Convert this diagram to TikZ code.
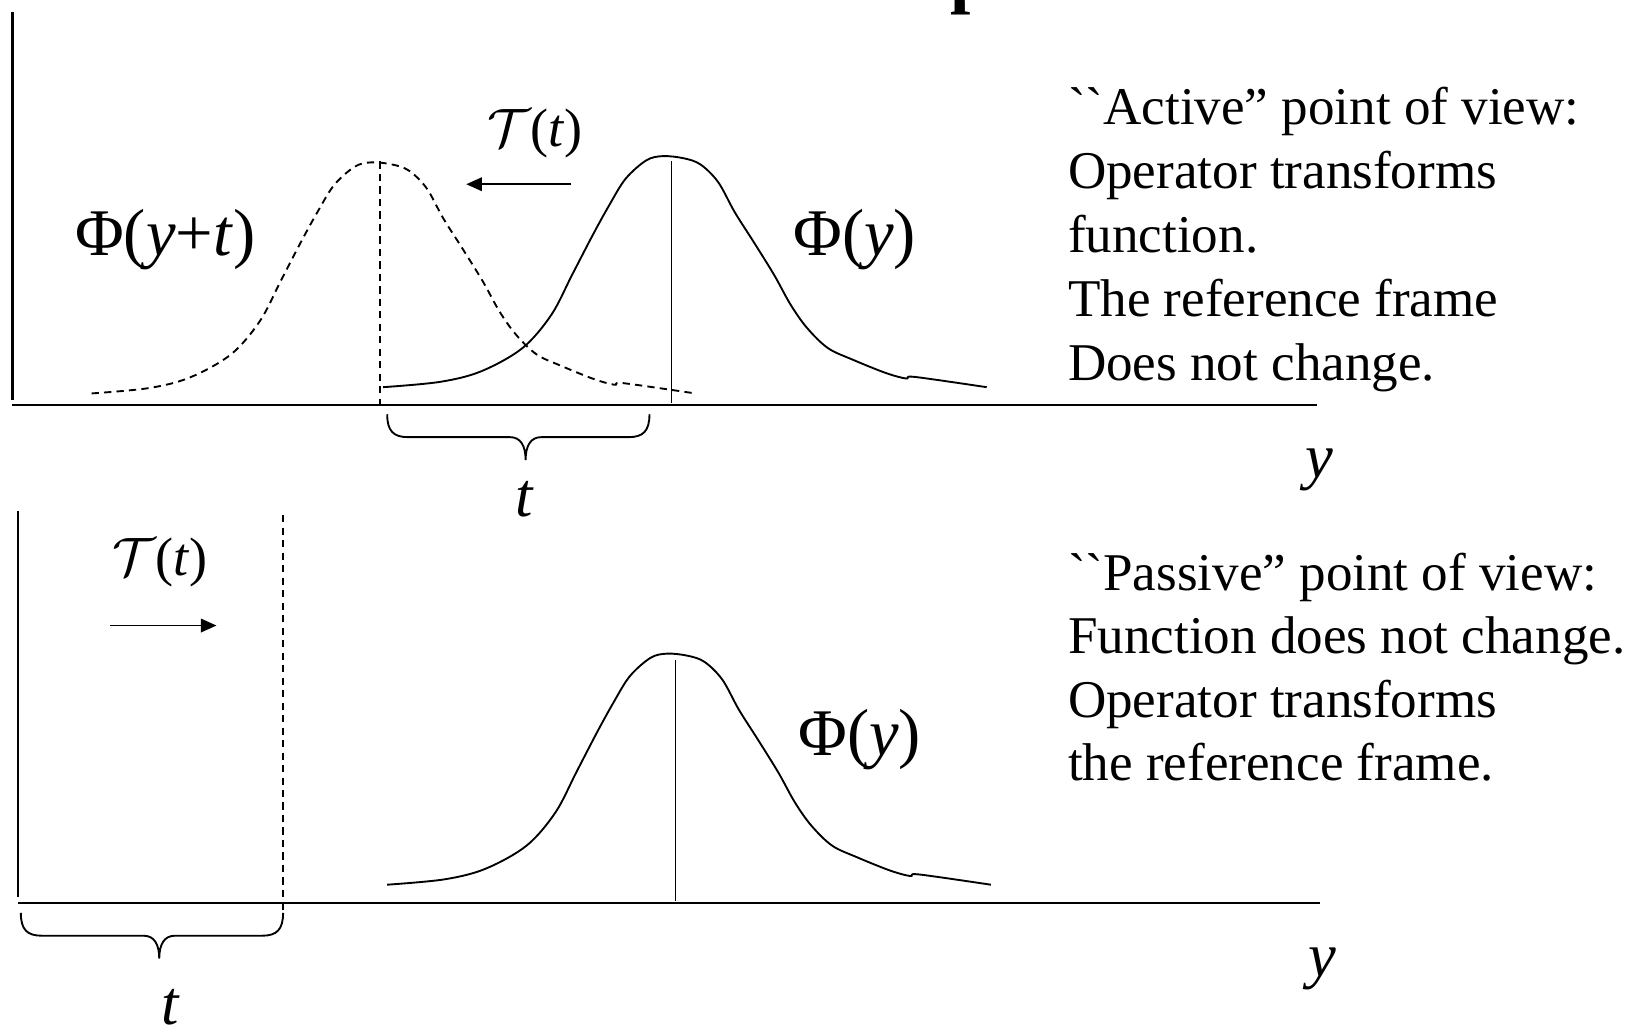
\documentclass[tikz,border=0pt]{standalone}
\usepackage{fontspec}
\setmainfont{Liberation Serif}
\usetikzlibrary{arrows.meta,positioning}
\newcommand{\calT}{\scalebox{5.2}{\fontsize{10}{10}\selectfont$\mathcal{T}$}}

\begin{document}
\begin{tikzpicture}[x=1pt, y=-1pt,
  axis/.style={line width=2pt},
  curve/.style={line width=1.8pt, line join=round},
  thinline/.style={line width=1.3pt},
  dashline/.style={line width=1.4pt, dash pattern=on 7pt off 5pt},
  curly/.style={line width=1.8pt},
  arr/.style={-{Triangle[length=15pt,width=13pt]}, line width=1.8pt},
  lbl/.style={inner sep=0pt, anchor=base west, font=\fontsize{64}{64}\selectfont},
  oplbl/.style={inner sep=0pt, anchor=base west, font=\fontsize{52}{52}\selectfont},
  txt/.style={inner sep=0pt, anchor=base west, font=\fontsize{51}{61.5}\selectfont},
  phi/.pic={\draw[curve] plot[smooth, tension=0.55] coordinates {(0,0) (54.7,-5.1) (94.4,-15.3) (134,-37.6) (161.7,-69.5) (181.6,-107.8) (201.4,-146) (217.3,-174.8) (233.1,-200.3) (252.9,-217.9) (268.8,-222) (288.6,-220) (305,-214) (322,-197) (338,-168) (356,-139.7) (375.8,-107.8) (391.7,-79.1) (407.5,-56.8) (427.4,-37.6) (451.1,-26.5) (482.9,-13.7) (502.7,-8.3) (510.6,-9.9) (580,0)};}
]
\useasboundingbox (0,0) rectangle (1568,988);

% title, cut off at the top
\begin{scope}
\clip (0,0) rectangle (1568,988);
\node[inner sep=0pt, anchor=base west, font=\fontsize{70}{70}\selectfont\bfseries] (title) at (913,-0.5) {p};
\end{scope}

% active point of view
\draw[axis] (12,12) -- (12,384);
\draw[axis] (12,389) -- (1265,389);
\pic[dashline] at (88,378) {phi};
\pic at (368,372) {phi};
\draw[dashline] (365,155) -- (365,389);
\draw[thinline] (645,155) -- (645,387);
\draw[curly] (372,398) .. controls (372,414) and (378,420) .. (392,420) -- (490,420) .. controls (500,420) and (505,428) .. (505,442) .. controls (505,428) and (510,420) .. (520,420) -- (604,420) .. controls (618,420) and (624,414) .. (624,398);

\node[oplbl] (optop) at (468,141) {\calT(\textit{t})};
\coordinate (lefttail) at (549,177);
\coordinate (lefthead) at (448,177);
\draw[arr] (lefttail) -- (lefthead);
\node[lbl] (phishift) at (72,245) {Φ(\textit{y}+\textit{t})};
\node[lbl] (phitop) at (762,245) {Φ(\textit{y})};
\node[lbl, anchor=base, font=\fontsize{60}{60}\selectfont] (ttop) at (504,496) {\textit{t}};
\node[lbl, font=\fontsize{60}{60}\selectfont] (ytop) at (1254,459) {\textit{y}};

\node[txt] (act1) at (1026,120) {\textasciigrave\textasciigrave Active'' point of view:};
\node[txt] (act2) at (1026,181.5) {Operator transforms};
\node[txt] (act3) at (1026,243) {function.};
\node[txt] (act4) at (1026,304.5) {The reference frame};
\node[txt] (act5) at (1026,366) {Does not change.};

% passive point of view
\draw[axis] (17,491) -- (17,862);
\draw[axis] (17,868) -- (1268,868);
\draw[dashline] (272,495) -- (272,876);
\pic at (372,850) {phi};
\draw[thinline] (649,634) -- (649,866);
\draw[curly] (20,877) .. controls (20,893) and (26,899) .. (40,899) -- (138,899) .. controls (148,899) and (153,907) .. (153,921) .. controls (153,907) and (158,899) .. (168,899) -- (252,899) .. controls (266,899) and (272,893) .. (272,877);

\node[oplbl] (opbot) at (108,553) {\calT(\textit{t})};
\coordinate (righttail) at (106,601);
\coordinate (righthead) at (208,601);
\draw[arr] (righttail) -- (righthead);
\node[lbl] (phibot) at (767,726) {Φ(\textit{y})};
\node[lbl, anchor=base, font=\fontsize{60}{60}\selectfont] (tbot) at (164,984) {\textit{t}};
\node[lbl, font=\fontsize{60}{60}\selectfont] (ybot) at (1257,938) {\textit{y}};

\node[txt] (pas1) at (1026,567) {\textasciigrave\textasciigrave Passive'' point of view:};
\node[txt] (pas2) at (1026,628) {Function does not change.};
\node[txt] (pas3) at (1026,689) {Operator transforms};
\node[txt] (pas4) at (1026,750) {the reference frame.};
\end{tikzpicture}
\end{document}
